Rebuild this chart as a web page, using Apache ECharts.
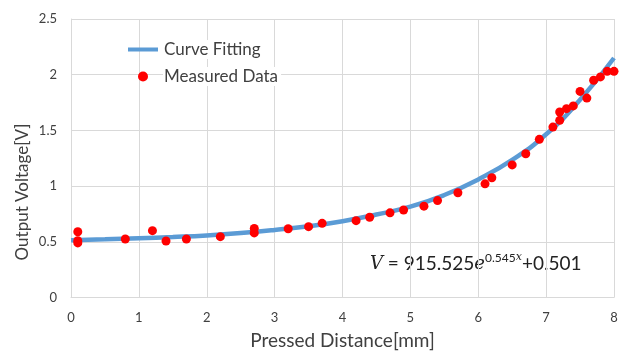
<!DOCTYPE html>
<html><head><meta charset="utf-8">
<script src="https://cdn.jsdelivr.net/npm/echarts@6/dist/echarts.min.js"></script>
<style>html,body{margin:0;padding:0;background:#fff}#c{width:619px;height:352px}</style>
</head><body><div id="c"></div>
<script>
const curveX = [0,0.5,1,1.5,2,2.5,3,3.5,4,4.5,5,5.5,6,6.5,7,7.5,8];
const curveV = [0.515,0.522,0.532,0.543,0.557,0.578,0.606,0.64,0.685,0.745,0.815,0.92,1.06,1.235,1.465,1.775,2.15];
const measX = [0.1,0.1,0.1,0.8,1.2,1.4,1.7,2.2,2.7,2.7,3.2,3.5,3.7,4.2,4.4,4.7,4.9,5.2,5.4,5.7,6.1,6.2,6.5,6.7,6.9,7.1,7.2,7.2,7.3,7.4,7.5,7.6,7.7,7.8,7.9,8.0];
const measV = [0.59,0.51,0.49,0.525,0.60,0.507,0.525,0.546,0.62,0.58,0.617,0.636,0.666,0.69,0.72,0.76,0.785,0.82,0.87,0.94,1.02,1.075,1.19,1.29,1.42,1.53,1.59,1.665,1.695,1.72,1.85,1.79,1.95,1.98,2.03,2.03];
const xTicks = [0,1,2,3,4,5,6,7,8];
const yTicks = [0,0.5,1,1.5,2,2.5];
const xTitle = 'Pressed Distance[mm]';
const yTitle = 'Output Voltage[V]';
const formulaParts = ['V', ' = 915.525', 'e', '0.545', 'x', '+0.501'];

const font = 'Lato';
const legendText = {fontFamily: font, fontSize: 17, color: '#404040', backgroundColor: '#fff', padding: [1, 3, 1, 1]};
const chart = echarts.init(document.getElementById('c'));
chart.setOption({
  animation: false,
  grid: {left: 71, right: 5, top: 19, bottom: 54.5, containLabel: false, outerBoundsMode: 'none'},
  xAxis: {
    type: 'value', min: 0, max: 8, interval: 1,
    name: xTitle, nameLocation: 'middle', nameGap: 34,
    nameTextStyle: {fontFamily: font, fontSize: 19, color: '#404040'},
    axisLine: {show: true, lineStyle: {color: '#d9d9d9'}},
    axisTick: {show: false},
    axisLabel: {fontFamily: font, fontSize: 13, color: '#404040', margin: 14,
      formatter: v => xTicks.includes(v) ? String(v) : ''},
    splitLine: {show: true, lineStyle: {color: '#d9d9d9', width: 1}}
  },
  yAxis: {
    type: 'value', min: 0, max: 2.5, interval: 0.5,
    axisLine: {show: true, lineStyle: {color: '#d9d9d9'}},
    axisTick: {show: false},
    axisLabel: {fontFamily: font, fontSize: 13, color: '#404040', margin: 14,
      formatter: v => yTicks.includes(v) ? String(v) : ''},
    splitLine: {show: true, lineStyle: {color: '#d9d9d9', width: 1}}
  },
  legend: [
    {
      left: 128, top: 40, padding: 0, itemWidth: 30, itemHeight: 4,
      textStyle: legendText,
      data: [{name: 'Curve Fitting', icon: 'rect'}]
    },
    {
      left: 138, top: 67, padding: 0, itemWidth: 30, itemHeight: 10,
      textStyle: legendText,
      data: [{name: 'Measured Data', icon: 'circle'}]
    }
  ],
  graphic: [
    {
      type: 'text', x: 23, y: 192, rotation: Math.PI / 2,
      style: {text: yTitle, fontFamily: font, fontSize: 17, fill: '#404040', align: 'center', verticalAlign: 'middle'}
    },
    {
      type: 'text', left: 370, top: 252,
      style: {
        text: '{i|' + formulaParts[0] + '}{n|' + formulaParts[1] + '}{i|' + formulaParts[2] + '}{s|' + formulaParts[3] + '}{si|' + formulaParts[4] + '}{n|' + formulaParts[5] + '}',
        rich: {
          i: {fontFamily: 'DejaVu Serif', fontStyle: 'italic', fontSize: 18, fill: '#222', verticalAlign: 'bottom'},
          n: {fontFamily: font, fontSize: 19, fill: '#222', verticalAlign: 'bottom'},
          s: {fontFamily: font, fontSize: 12, fill: '#222', verticalAlign: 'top', padding: [0,0,9,0]},
          si: {fontFamily: 'DejaVu Serif', fontStyle: 'italic', fontSize: 11, fill: '#222', verticalAlign: 'top', padding: [0,0,9,0]}
        }
      }
    }
  ],
  series: [
    {
      name: 'Curve Fitting', type: 'line', smooth: true, symbol: 'none',
      data: curveX.map((x, i) => [x, curveV[i]]),
      lineStyle: {color: '#5b9bd5', width: 4.5},
      itemStyle: {color: '#5b9bd5'}, z: 2
    },
    {
      name: 'Measured Data', type: 'scatter', symbol: 'circle', symbolSize: 9,
      data: measX.map((x, i) => [x, measV[i]]),
      itemStyle: {color: '#ff0000', opacity: 1}, z: 3
    }
  ]
});
</script></body></html>
